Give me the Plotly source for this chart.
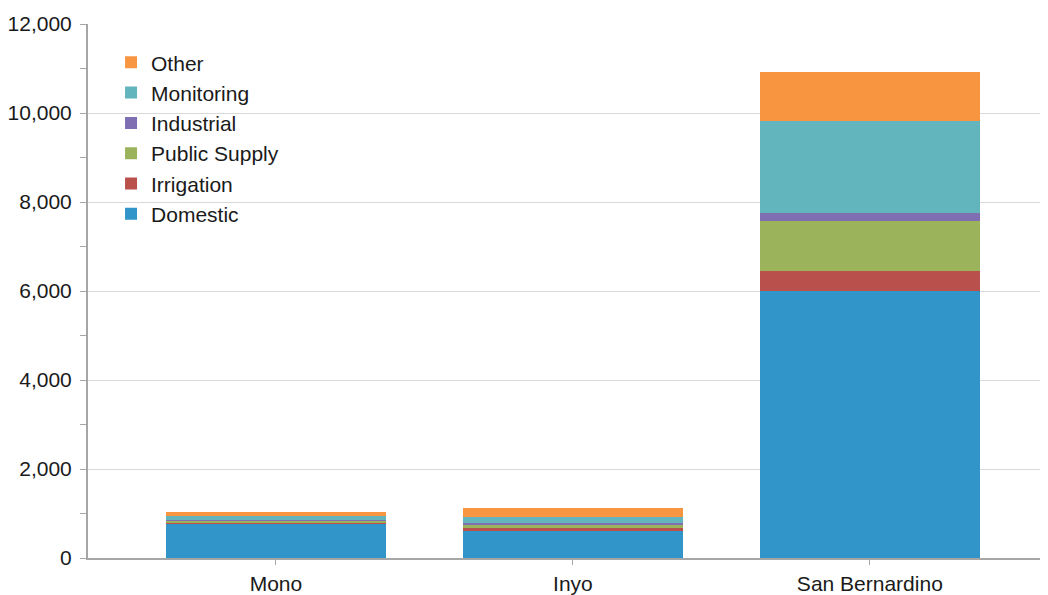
import plotly.graph_objects as go

categories = ["Mono", "Inyo", "San Bernardino"]
series_names = ["Domestic", "Irrigation", "Public Supply", "Industrial", "Monitoring", "Other"]
domestic = [770, 610, 6000]
irrigation = [25, 60, 460]
public_supply = [50, 75, 1120]
industrial = [10, 37, 165]
monitoring = [100, 150, 2080]
other = [75, 200, 1090]
y_ticks = [0, 2000, 4000, 6000, 8000, 10000, 12000]

series_values = [domestic, irrigation, public_supply, industrial, monitoring, other]
colors = ["#3195c9", "#b9504c", "#9bb35b", "#7f6eb1", "#62b4bd", "#f79541"]

fig = go.Figure()
for name, vals, col in zip(series_names, series_values, colors):
    fig.add_trace(go.Bar(x=categories, y=vals, name=name,
                         marker=dict(color=col, line=dict(width=0))))

font = "Liberation Sans, Arial, sans-serif"
fig.update_layout(
    barmode="stack",
    bargap=0.26,
    width=1048, height=595,
    margin=dict(l=80, r=8, t=16, b=44.5),
    plot_bgcolor="white", paper_bgcolor="white",
    font=dict(family=font, size=21, color="#1a1a1a"),
    legend=dict(traceorder="reversed", x=0.024, y=0.966, xanchor="left", yanchor="top",
                bgcolor="rgba(0,0,0,0)", font=dict(size=21), itemwidth=30,
                borderwidth=0),
    shapes=[dict(type="rect", xref="paper", yref="paper", x0=0.025, x1=0.2083,
                 y0=0.6146, y1=0.97, fillcolor="white", line=dict(width=0),
                 layer="between")],
    xaxis=dict(range=[-0.633, 2.6], showline=True, linecolor="#a6a6a6", linewidth=2,
               ticks="outside", ticklen=5, tickcolor="#a6a6a6", tickfont=dict(size=21),
               ticklabelstandoff=1, showgrid=False, automargin=False),
    yaxis=dict(range=[0, 12000], tickvals=y_ticks, tickformat=",d",
               showline=True, linecolor="#a6a6a6", linewidth=2,
               ticks="outside", ticklen=6, tickcolor="#a6a6a6",
               gridcolor="#d9d9d9", gridwidth=1, tickfont=dict(size=21),
               ticklabelstandoff=4, automargin=False,
               minor=dict(dtick=1000, ticks="outside", ticklen=6, tickcolor="#a6a6a6", showgrid=False),
               zeroline=False),
)
fig.write_html("out.html")
